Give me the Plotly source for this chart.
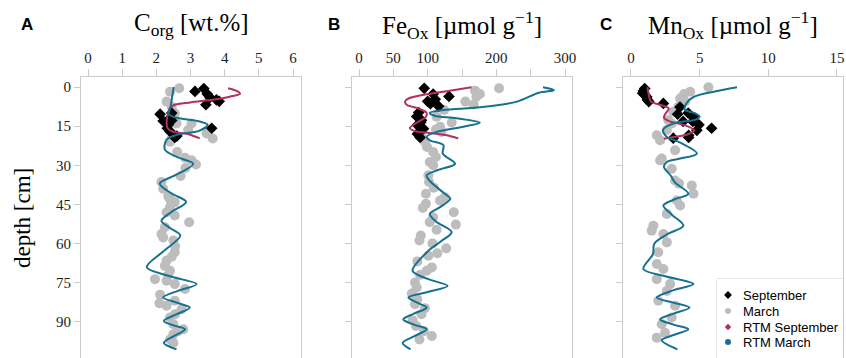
import plotly.graph_objects as go

W, H = 846, 358

# ---------------- data ----------------
depth_ticks = [0, 15, 30, 45, 60, 75, 90]

# Panel A: Corg [wt.%]
corg_sep_x = [3.13, 3.39, 3.49, 3.57, 3.76, 3.84, 3.45, 2.11, 2.20, 2.40, 2.35, 2.45, 2.40, 2.50, 3.62, 2.32, 2.54, 2.60, 2.45]
corg_sep_d = [1.7, 0.6, 2.7, 4.0, 4.9, 5.5, 6.8, 10.4, 13.0, 11.9, 14.5, 10.0, 17.0, 18.3, 15.8, 15.8, 19.3, 18.8, 12.8]
corg_mar_x = [2.67, 2.40, 2.30, 2.45, 2.54, 2.40, 2.59, 3.03, 2.93, 3.47, 3.65, 2.45, 2.40, 2.61, 2.84, 3.03, 3.16,
              2.85, 2.71, 2.15, 2.20, 2.35, 2.40, 2.54, 2.40, 2.30, 2.54, 2.96, 2.25, 2.15, 2.20, 2.50, 2.55, 2.54,
              2.45, 2.30, 2.25, 2.40, 2.35, 1.96, 2.30, 2.54, 2.84, 2.11, 2.54, 2.09, 2.30, 2.74, 2.55, 2.40, 2.50,
              2.79, 2.64, 2.50, 2.40, 2.50]
corg_mar_d = [0.5, 1.8, 5.6, 7.6, 10.1, 12.7, 14.0, 14.0, 16.5, 17.8, 19.7, 19.7, 21.0, 24.9, 27.1, 28.1, 29.7,
              31.0, 34.1, 36.4, 39.0, 41.9, 43.0, 44.1, 46.0, 48.0, 49.2, 51.8, 53.7, 56.3, 57.6, 58.8, 61.0, 63.3,
              65.0, 66.5, 68.5, 70.4, 72.0, 73.6, 74.2, 75.5, 77.4, 79.6, 81.9, 82.8, 83.8, 85.1, 87.0, 88.3, 90.9,
              92.8, 93.5, 94.7, 96.7, 98.0]
corg_rtms_x = [4.10, 4.35, 4.45, 4.15, 3.70, 3.00, 2.52, 2.38, 2.33, 2.30, 2.33, 2.50, 2.90, 3.27]
corg_rtms_d = [0.5, 1.5, 2.6, 3.7, 4.8, 5.9, 6.9, 8.5, 11.0, 13.5, 15.8, 17.2, 17.9, 19.7]
corg_rtmm_x = [2.51, 2.46, 2.42, 2.36, 2.60, 3.20, 3.50, 3.25, 2.60, 2.30, 2.25, 2.60, 3.08, 2.60, 2.10, 2.45,
               2.87, 2.45, 2.15, 2.40, 2.70, 2.20, 1.72, 2.40, 3.18, 2.65, 2.20, 2.60, 2.98, 2.60, 2.22, 2.50,
               2.84, 2.50, 2.22, 2.59]
corg_rtmm_d = [0.0, 4.0, 7.4, 10.3, 11.8, 13.0, 14.5, 16.8, 18.3, 20.2, 24.0, 26.8, 29.4, 33.5, 37.0, 40.8,
               44.0, 47.8, 51.2, 54.0, 56.9, 63.0, 69.0, 72.5, 75.5, 78.0, 80.6, 82.6, 84.5, 87.0, 89.6, 91.3,
               92.8, 95.5, 98.0, 100.5]

# Panel B: FeOx [umol/g]
fe_sep_x = [95, 108, 131, 111, 104, 116, 87, 84, 91, 85, 94, 85, 89, 100, 90, 88]
fe_sep_d = [0.5, 2.7, 3.6, 4.7, 6.4, 7.4, 9.8, 11.3, 12.7, 14.6, 16.0, 18.0, 19.3, 5.5, 13.5, 17.0]
fe_mar_x = [204, 169, 176, 171, 155, 167, 124, 113, 135, 118, 112, 120, 90, 96, 99, 108, 112, 103, 108, 101,
            102, 109, 97.5, 125, 118, 97.5, 93, 138, 108, 103, 141, 113, 90, 88, 107, 127, 114, 101, 85, 106,
            98.5, 89, 81.5, 84, 77, 85, 81.5, 96, 91, 78, 83, 94.6, 106, 88]
fe_mar_d = [0.5, 1.4, 2.7, 3.7, 5.6, 6.7, 8.8, 11.4, 13.6, 15.2, 16.3, 17.2, 18.5, 21.0, 23.0, 24.9, 26.8, 28.7,
            30.0, 33.8, 36.4, 38.6, 40.9, 42.2, 43.5, 44.7, 46.3, 48.0, 49.9, 51.8, 52.7, 54.7, 56.9, 58.8,
            59.9, 61.8, 63.7, 64.6, 66.8, 69.1, 70.4, 71.9, 74.9, 76.8, 79.1, 81.3, 83.2, 84.7, 87.0, 89.4,
            91.5, 93.5, 95.4, 96.7]
fe_rtms_x = [164, 132, 98.5, 72, 67, 70, 86, 98.5, 97.5, 84, 74, 81.5, 103, 128, 144.5]
fe_rtms_d = [0.1, 1.4, 2.8, 4.4, 5.6, 6.9, 8.2, 9.9, 11.4, 13.7, 15.7, 16.9, 17.6, 18.5, 19.7]
fe_rtmm_x = [268, 284, 262, 230, 176, 123, 103, 110, 142, 176, 152, 113, 98.5, 103, 123, 122, 140, 115, 98.5,
             103, 125, 133, 118, 103, 112, 135, 120, 100, 78, 100, 129, 100, 72, 85, 98.5, 80, 64.5, 80, 98.5,
             80, 63.6, 75]
fe_rtmm_d = [0.1, 1.2, 2.2, 5.6, 7.8, 8.8, 9.9, 11.0, 12.0, 13.7, 15.2, 17.2, 19.1, 20.4, 22.3, 25.5, 29.4,
             31.8, 33.8, 36.0, 40.9, 42.8, 46.0, 48.6, 51.5, 55.6, 59.0, 63.0, 70.4, 73.5, 76.2, 78.5, 80.6,
             82.6, 84.5, 86.8, 89.0, 91.0, 92.8, 95.5, 98.0, 100.5]

# Panel C: MnOx [umol/g]
mn_sep_x = [1.0, 0.9, 0.85, 1.0, 1.15, 1.2, 1.3, 2.36, 3.57, 3.40, 4.17, 4.6, 4.5, 3.8, 4.95, 5.87, 4.8, 4.2, 4.2, 3.08]
mn_sep_d = [0.6, 1.5, 2.4, 3.0, 3.8, 4.9, 5.6, 6.3, 7.7, 10.4, 10.0, 11.7, 13.2, 13.2, 14.5, 15.8, 16.6, 18.5, 19.3, 19.6]
mn_mar_x = [5.64, 4.31, 3.87, 3.58, 3.94, 3.46, 3.09, 2.72, 2.97, 2.61, 1.88, 2.12, 3.21, 2.24, 2.12, 2.97,
            3.21, 3.50, 4.43, 4.55, 3.34, 3.58, 2.61, 1.63, 1.51, 2.36, 2.61, 1.99, 1.88, 2.36, 1.88, 2.85,
            2.61, 1.99, 3.21, 2.97, 2.24, 2.48, 1.88]
mn_mar_d = [0.1, 1.8, 2.7, 4.4, 5.6, 7.6, 9.5, 12.7, 14.0, 16.5, 18.5, 20.4, 24.2, 27.4, 28.1, 31.3,
            35.8, 37.0, 37.7, 40.9, 43.5, 45.4, 48.6, 53.1, 55.0, 56.3, 59.5, 63.3, 67.8, 69.7, 73.6, 75.5,
            78.1, 81.9, 83.8, 88.3, 90.9, 94.1, 96.0]
mn_rtms_x = [1.2, 1.3, 1.45, 2.0, 2.75, 2.5, 2.4, 2.9, 3.9, 4.6, 4.1, 3.0, 2.4]
mn_rtms_d = [0.1, 3.0, 5.6, 6.6, 8.2, 10.3, 11.8, 13.3, 14.6, 16.6, 18.2, 19.2, 19.8]
mn_rtmm_x = [7.72, 6.1, 4.65, 4.04, 3.92, 4.65, 5.0, 4.65, 3.19, 2.34, 2.58, 3.43, 4.8, 3.5, 2.61, 2.4, 2.9,
             3.2, 4.18, 3.2, 2.36, 3.0, 3.82, 2.6, 1.7, 1.6, 0.9, 2.5, 4.55, 3.0, 1.88, 3.0, 4.26, 3.1, 2.12,
             3.1, 4.18, 3.1, 2.24, 3.38]
mn_rtmm_d = [0.1, 1.7, 3.6, 6.2, 8.7, 10.0, 11.3, 12.6, 13.8, 16.4, 19.0, 20.9, 25.5, 27.5, 28.7, 30.6, 34.0,
             36.5, 40.9, 43.0, 45.4, 49.0, 53.1, 56.5, 60.0, 64.0, 69.7, 72.5, 75.5, 78.0, 80.6, 82.5, 84.5,
             86.8, 89.0, 91.0, 92.8, 95.0, 97.0, 100.5]

legend_labels = ["September", "March", "RTM September", "RTM March"]

# ---------------- style ----------------
C_SEP = "black"
C_MAR = "#bdbdbd"
C_RTMS = "#b3305f"
C_RTMM = "#16708f"
AXC = "#cccccc"
SERIF = "Liberation Serif"
SANS = "Liberation Sans"

fig = go.Figure()

panels = [
    ("x", "y", corg_sep_x, corg_sep_d, corg_mar_x, corg_mar_d, corg_rtms_x, corg_rtms_d, corg_rtmm_x, corg_rtmm_d),
    ("x2", "y2", fe_sep_x, fe_sep_d, fe_mar_x, fe_mar_d, fe_rtms_x, fe_rtms_d, fe_rtmm_x, fe_rtmm_d),
    ("x3", "y3", mn_sep_x, mn_sep_d, mn_mar_x, mn_mar_d, mn_rtms_x, mn_rtms_d, mn_rtmm_x, mn_rtmm_d),
]
for xa, ya, sx, sd, mx, md, rsx, rsd, rmx, rmd in panels:
    fig.add_trace(go.Scatter(x=mx, y=md, xaxis=xa, yaxis=ya, mode="markers", name="March", showlegend=False,
                             marker=dict(color=C_MAR, size=10, symbol="circle")))
    fig.add_trace(go.Scatter(x=sx, y=sd, xaxis=xa, yaxis=ya, mode="markers", name="September", showlegend=False,
                             marker=dict(color=C_SEP, size=9, symbol="diamond")))
    fig.add_trace(go.Scatter(x=rsx, y=rsd, xaxis=xa, yaxis=ya, mode="lines", name="RTM September", showlegend=False,
                             line=dict(color=C_RTMS, width=2, shape="spline", smoothing=0.9)))
    fig.add_trace(go.Scatter(x=rmx, y=rmd, xaxis=xa, yaxis=ya, mode="lines", name="RTM March", showlegend=False,
                             line=dict(color=C_RTMM, width=2, shape="spline", smoothing=0.9)))

def px(x):
    return x / W

def py(y):
    return 1 - y / H

ytop = 77
ydom = [0, py(ytop)]
drange = [103.8, -3.83]

xdoms = [[px(81), px(301)], [px(352), px(572)], [px(623), px(843)]]
xranges = [[-0.205, 6.234], [-10.2, 310.2], [-0.58, 15.44]]
xticks = [([0, 1, 2, 3, 4, 5, 6], ["0", "1", "2", "3", "4", "5", "6"]),
          ([0, 50, 100, 150, 200, 250, 300], ["0", "50", "100", "", "200", "", "300"]),
          ([0, 5, 10, 15], ["0", "5", "10", "15"])]

tickfont = dict(family=SERIF, size=15, color="#222")
for i in range(3):
    sfx = "" if i == 0 else str(i + 1)
    fig.update_layout(**{
        "xaxis" + sfx: dict(domain=xdoms[i], range=xranges[i], side="top", anchor="y" + sfx,
                            showline=True, linecolor=AXC, linewidth=1, mirror=False,
                            ticks="outside", ticklen=7, tickcolor=AXC,
                            tickvals=xticks[i][0], ticktext=xticks[i][1],
                            showgrid=False, zeroline=False, tickfont=tickfont, automargin=False),
        "yaxis" + sfx: dict(domain=ydom, range=drange, anchor="x" + sfx,
                            showline=True, linecolor=AXC, linewidth=1, mirror=True,
                            ticks="outside", ticklen=6, tickcolor=AXC,
                            tickvals=depth_ticks, showticklabels=(i == 0),
                            showgrid=False, zeroline=False, tickfont=tickfont, automargin=False),
    })

# ---- legend (drawn manually so its spacing matches) ----
LX0, LX1, LY0, LY1 = 717, 843, 279, 358
fig.update_layout(
    xaxis4=dict(domain=[px(LX0), px(LX1)], range=[LX0, LX1], visible=False, anchor="y4", fixedrange=True),
    yaxis4=dict(domain=[py(LY1), py(LY0)], range=[LY1, LY0], visible=False, anchor="x4", fixedrange=True),
)
leg_rows = [295, 311, 327, 342]
leg_marker_x = 728
leg_text_x = 741
leg_styles = [(C_SEP, "diamond", 6), (C_MAR, "circle", 6), (C_RTMS, "diamond", 5), (C_RTMM, "circle", 6)]
for lab, yr, (col, sym, sz) in zip(legend_labels, leg_rows, leg_styles):
    fig.add_trace(go.Scatter(x=[leg_marker_x], y=[yr], xaxis="x4", yaxis="y4", mode="markers",
                             showlegend=False, hoverinfo="skip", cliponaxis=False,
                             marker=dict(color=col, symbol=sym, size=sz)))

ann = []
for lab, yr in zip(legend_labels, leg_rows):
    ann.append(dict(text=lab, x=leg_text_x, y=yr, xref="x4", yref="y4", showarrow=False,
                    xanchor="left", yanchor="middle", font=dict(family=SANS, size=13, color="black")))

titles = ["C<sub>org</sub> [wt.%]", "Fe<sub>Ox</sub> [µmol g<sup>−1</sup>]", "Mn<sub>Ox</sub> [µmol g<sup>−1</sup>]"]
for i, t in enumerate(titles):
    cx = (xdoms[i][0] + xdoms[i][1]) / 2
    ann.append(dict(text=t, x=cx, y=py(25), xref="paper", yref="paper", showarrow=False,
                    xanchor="center", yanchor="middle", font=dict(family=SERIF, size=25, color="black")))
for lab, xp in [("A", 27), ("B", 334), ("C", 606)]:
    ann.append(dict(text="<b>%s</b>" % lab, x=px(xp), y=py(25), xref="paper", yref="paper", showarrow=False,
                    xanchor="center", yanchor="middle", font=dict(family=SANS, size=17, color="black")))
ann.append(dict(text="depth [cm]", x=px(22), y=py(218), xref="paper", yref="paper", showarrow=False,
                textangle=-90, xanchor="center", yanchor="middle", font=dict(family=SERIF, size=23, color="black")))

fig.update_layout(
    width=W, height=H,
    margin=dict(l=0, r=0, t=0, b=0, pad=0),
    font=dict(family=SERIF, size=15, color="#222"),
    paper_bgcolor="white", plot_bgcolor="white",
    annotations=ann,
    shapes=[dict(type="rect", xref="paper", yref="paper", x0=px(LX0), x1=px(LX1), y0=py(LY1 + 4), y1=py(LY0),
                 line=dict(color=AXC, width=1), fillcolor="white", layer="below")],
    showlegend=False,
)

fig.write_html("out.html",
               config={"displayModeBar": False},
               post_script="document.body.style.margin='0';document.body.style.padding='0';"
                           "document.body.style.overflow='hidden';")
